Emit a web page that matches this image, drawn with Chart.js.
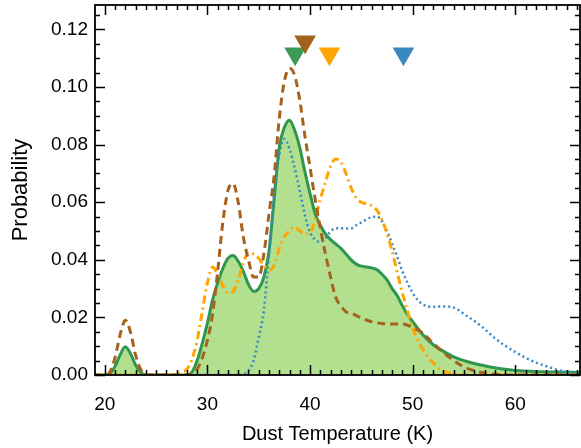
<!DOCTYPE html>
<html>
<head>
<meta charset="utf-8">
<script src="https://cdn.jsdelivr.net/npm/chart.js@4/dist/chart.umd.min.js"></script>
<style>
html,body{margin:0;padding:0;background:#fff;}
canvas{display:block;}
</style>
</head>
<body>
<canvas id="c" width="581" height="448"></canvas>
<script>
// ---- Data ----
const greenT = [19,20,20.5,21,21.5,22,22.5,23,23.5,24,28,28.5,29,29.5,30,30.5,31,31.5,32,32.5,33,33.5,34,34.5,35,35.5,36,36.5,37,37.5,38,38.5,39,39.5,40,40.5,41,41.5,42,42.5,43,43.5,44,44.5,45,45.5,46,46.5,47,47.5,48,48.5,49,49.5,50,51,52,53,54,55,56,57,58,59,60,62,64,66.3];
const greenP = [0,0,0.0005,0.003,0.007,0.0098,0.0075,0.0035,0.001,0,0,0.001,0.005,0.011,0.018,0.026,0.032,0.037,0.0405,0.0415,0.0395,0.036,0.0315,0.029,0.030,0.034,0.043,0.061,0.079,0.086,0.0885,0.085,0.079,0.0706,0.063,0.056,0.052,0.049,0.047,0.0455,0.044,0.042,0.040,0.0385,0.0378,0.0375,0.0372,0.0366,0.035,0.033,0.030,0.0275,0.024,0.021,0.0185,0.014,0.0105,0.0082,0.0063,0.005,0.004,0.0032,0.0025,0.002,0.0016,0.0012,0.001,0.0009];

const brownT = [19,20,20.5,21,21.5,22,22.5,23,23.5,24,28,28.5,29,29.5,30,30.5,31,31.5,32,32.5,33,33.5,34,34.5,35,35.5,36,36.5,37,37.5,38,38.5,39,39.5,40,40.5,41,41.5,42,42.5,43,43.5,44,45,46,47,48,49,50,51,52,53,54,55,56,57,58,60,66.3];
const brownP = [0,0,0.001,0.006,0.014,0.019,0.015,0.007,0.002,0,0,0.0005,0.002,0.006,0.012,0.021,0.036,0.053,0.064,0.0665,0.060,0.048,0.040,0.034,0.034,0.042,0.056,0.069,0.089,0.102,0.1065,0.104,0.0955,0.083,0.072,0.061,0.051,0.042,0.034,0.027,0.024,0.022,0.0215,0.0198,0.0185,0.0179,0.0177,0.0177,0.0165,0.0145,0.011,0.0078,0.005,0.0028,0.0015,0.0007,0.0003,0,0];

const orangeT = [19,26,27,27.5,28,28.5,29,29.5,30,30.5,31,31.5,32,32.5,33,33.5,34,34.5,35,35.5,36,36.5,37,37.5,38,38.5,39,39.5,40,40.5,41,41.5,42,42.5,43,43.5,44,44.5,45,45.5,46,46.5,47,47.5,48,48.5,49,49.5,50,50.5,51,51.5,52,52.5,53,54,55,66.3];
const orangeP = [0,0,0.0003,0.001,0.002,0.0055,0.012,0.022,0.032,0.0375,0.035,0.031,0.0285,0.029,0.033,0.039,0.0425,0.042,0.0405,0.038,0.0365,0.038,0.044,0.048,0.050,0.0515,0.050,0.049,0.0495,0.054,0.061,0.067,0.0725,0.075,0.074,0.070,0.065,0.0615,0.060,0.0595,0.0588,0.0573,0.054,0.049,0.043,0.0355,0.0285,0.022,0.0165,0.012,0.0088,0.0062,0.0042,0.0025,0.0013,0.0004,0,0];

const blueT = [19,33,33.5,34,34.5,35,35.5,36,36.5,37,37.5,38,38.5,39,39.5,40,40.5,41,41.5,42,42.5,43,43.5,44,44.5,45,45.5,46,46.5,47,47.5,48,48.5,49,49.5,50,50.5,51,51.5,52,53,54,54.5,55,56,57,58,59,60,61,62,63,64,65,66.3];
const blueP = [0,0,0.0003,0.0015,0.005,0.013,0.0225,0.042,0.063,0.0765,0.082,0.0785,0.072,0.064,0.0555,0.0495,0.047,0.0462,0.0475,0.0498,0.051,0.051,0.0509,0.0509,0.052,0.053,0.054,0.0548,0.055,0.0535,0.050,0.0455,0.041,0.036,0.032,0.0285,0.026,0.0245,0.0238,0.0237,0.0238,0.0234,0.0225,0.0212,0.0188,0.016,0.0128,0.0102,0.008,0.006,0.0043,0.0031,0.0019,0.001,0.0006];

// Peak markers (downward triangles)
const markerT = [38.55, 39.52, 41.89, 49.1];
const markerP = [0.1116, 0.1157, 0.1116, 0.1116];
const markerColors = ['#3b9a56', '#a0621c', '#ffa500', '#3a88c2'];

const xTickVals = [20, 30, 40, 50, 60];
const yTickVals = [0, 0.02, 0.04, 0.06, 0.08, 0.10, 0.12];

const pts = (t, p) => t.map((v, i) => ({x: v, y: p[i]}));

const FONT = 'Liberation Sans, Arial, Helvetica, sans-serif';

const framePlugin = {
  id: 'frame',
  afterDatasetsDraw(chart) {
    const {ctx, chartArea: a, scales: {x, y}} = chart;
    ctx.save();
    ctx.strokeStyle = '#000';
    ctx.lineWidth = 1.8;
    ctx.strokeRect(a.left, a.top, a.right - a.left, a.bottom - a.top);
    ctx.lineWidth = 1.5;
    ctx.beginPath();
    for (let v = Math.ceil(x.min); v <= x.max; v++) {
      const px = Math.round(x.getPixelForValue(v)) + 0.5;
      const len = (v % 10 === 0) ? 10 : 5;
      ctx.moveTo(px, a.bottom); ctx.lineTo(px, a.bottom - len);
      ctx.moveTo(px, a.top); ctx.lineTo(px, a.top + len);
    }
    for (let k = 0; k * 0.005 <= y.max + 1e-9; k++) {
      const v = k * 0.005;
      const py = Math.round(y.getPixelForValue(v)) + 0.5;
      const len = (k % 4 === 0) ? 10 : 5;
      ctx.moveTo(a.left, py); ctx.lineTo(a.left + len, py);
      ctx.moveTo(a.right, py); ctx.lineTo(a.right - len, py);
    }
    ctx.stroke();
    ctx.restore();
  }
};

function zeroPad(s) { s.paddingTop = 0; s.paddingBottom = 0; s.paddingLeft = 0; s.paddingRight = 0; }

new Chart(document.getElementById('c'), {
  type: 'line',
  data: {
    datasets: [
      {
        label: 'markers', type: 'scatter', data: pts(markerT, markerP),
        pointStyle: 'triangle', rotation: 180, pointRadius: 12.5,
        pointBackgroundColor: markerColors, pointBorderColor: markerColors, pointBorderWidth: 0,
        showLine: false
      },
      {
        label: 'brown', data: pts(brownT, brownP), borderColor: '#a6621c', borderWidth: 3,
        borderDash: [8, 5], pointRadius: 0, fill: false, cubicInterpolationMode: 'monotone'
      },
      {
        label: 'orange', data: pts(orangeT, orangeP), borderColor: '#ffa500', borderWidth: 3,
        borderDash: [8, 4, 2, 4], pointRadius: 0, fill: false, cubicInterpolationMode: 'monotone'
      },
      {
        label: 'blue', data: pts(blueT, blueP), borderColor: '#3a88c2', borderWidth: 2.5,
        borderDash: [2, 3], pointRadius: 0, fill: false, cubicInterpolationMode: 'monotone'
      },
      {
        label: 'green', data: pts(greenT, greenP), borderColor: '#2f9650', borderWidth: 3,
        backgroundColor: '#b2e08f', fill: 'origin', pointRadius: 0, cubicInterpolationMode: 'monotone'
      }
    ]
  },
  options: {
    responsive: false,
    animation: false,
    devicePixelRatio: 1,
    layout: {autoPadding: false, padding: {top: 5, right: 1, left: 0, bottom: 0}},
    plugins: {legend: {display: false}, tooltip: {enabled: false}},
    scales: {
      x: {
        type: 'linear', min: 19.05, max: 66.3,
        afterBuildTicks: s => { s.ticks = xTickVals.map(v => ({value: v})); },
        afterFit: s => { s.height = 73; zeroPad(s); },
        grid: {display: false, drawTicks: false},
        border: {display: false},
        ticks: {color: '#000', font: {family: FONT, size: 19}, padding: 18, maxRotation: 0},
        title: {display: true, text: 'Dust Temperature (K)', color: '#000',
                font: {family: FONT, size: 20}, padding: {top: 0, bottom: 2}}
      },
      y: {
        type: 'linear', min: 0, max: 0.1285,
        afterBuildTicks: s => { s.ticks = yTickVals.map(v => ({value: v})); },
        afterFit: s => { s.width = 95; zeroPad(s); },
        grid: {display: false, drawTicks: false},
        border: {display: false},
        ticks: {color: '#000', font: {family: FONT, size: 19}, padding: 7,
                callback: v => v.toFixed(2)},
        title: {display: true, text: 'Probability', color: '#000',
                font: {family: FONT, size: 22}, padding: {top: 8, bottom: 0}}
      }
    }
  },
  plugins: [framePlugin]
});
</script>
</body>
</html>
